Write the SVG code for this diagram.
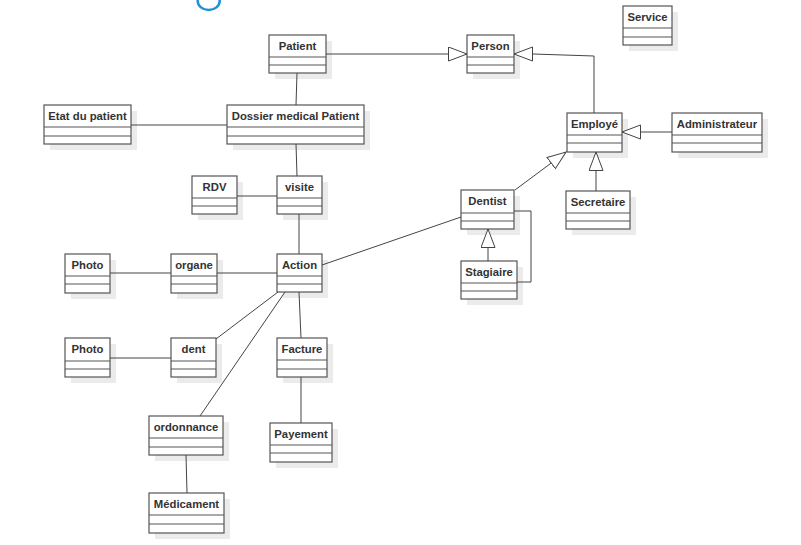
<svg xmlns="http://www.w3.org/2000/svg" width="801" height="545" viewBox="0 0 801 545">
  <style>
    .shadow { fill: #ebebeb; }
    .box { fill: #ffffff; stroke: #555555; stroke-width: 1.2; }
    .div { stroke: #555555; stroke-width: 1.2; }
    .name { font-family: "Liberation Sans", Arial, sans-serif; font-size: 11.3px; font-weight: bold; fill: #333333; text-anchor: middle; }
    .edge { fill: none; stroke: #444444; stroke-width: 1; }
  </style>
  <defs>
    <marker id="gen" markerUnits="userSpaceOnUse" markerWidth="22" markerHeight="18" refX="19" refY="7.5" orient="auto">
      <path d="M0.5,0.5 L19,7.5 L0.5,14.5 Z" fill="#ffffff" stroke="#444444" stroke-width="1"/>
    </marker>
  </defs>
  <rect width="801" height="545" fill="#ffffff"/>

  <!-- partial logo stroke at the top edge -->
  <ellipse cx="208.7" cy="1" rx="11" ry="9" fill="none" stroke="#1e90d8" stroke-width="2.5"/>

  <g id="service" transform="translate(623,6)">
    <rect class="shadow" x="6" y="6" width="49" height="39"/>
    <rect class="box" width="49" height="39"/>
    <line class="div" x1="0" y1="22" x2="49" y2="22"/><line class="div" x1="0" y1="31" x2="49" y2="31"/>
    <text class="name" x="24.5" y="15">Service</text>
  </g>
  <g id="patient" transform="translate(269,35)">
    <rect class="shadow" x="6" y="6" width="57" height="38"/>
    <rect class="box" width="57" height="38"/>
    <line class="div" x1="0" y1="22" x2="57" y2="22"/><line class="div" x1="0" y1="30" x2="57" y2="30"/>
    <text class="name" x="28.5" y="15">Patient</text>
  </g>
  <g id="person" transform="translate(467,35)">
    <rect class="shadow" x="6" y="6" width="47" height="38"/>
    <rect class="box" width="47" height="38"/>
    <line class="div" x1="0" y1="22" x2="47" y2="22"/><line class="div" x1="0" y1="30" x2="47" y2="30"/>
    <text class="name" x="23.5" y="15">Person</text>
  </g>
  <g id="etat-patient" transform="translate(44,105)">
    <rect class="shadow" x="6" y="6" width="87" height="39"/>
    <rect class="box" width="87" height="39"/>
    <line class="div" x1="0" y1="22" x2="87" y2="22"/><line class="div" x1="0" y1="31" x2="87" y2="31"/>
    <text class="name" x="43.5" y="15">Etat du patient</text>
  </g>
  <g id="dossier" transform="translate(227,105)">
    <rect class="shadow" x="6" y="6" width="137" height="39"/>
    <rect class="box" width="137" height="39"/>
    <line class="div" x1="0" y1="22" x2="137" y2="22"/><line class="div" x1="0" y1="31" x2="137" y2="31"/>
    <text class="name" x="68.5" y="15">Dossier medical Patient</text>
  </g>
  <g id="employe" transform="translate(567,113)">
    <rect class="shadow" x="6" y="6" width="55" height="39"/>
    <rect class="box" width="55" height="39"/>
    <line class="div" x1="0" y1="22" x2="55" y2="22"/><line class="div" x1="0" y1="30" x2="55" y2="30"/>
    <text class="name" x="27.5" y="15">Employé</text>
  </g>
  <g id="administrateur" transform="translate(672,113)">
    <rect class="shadow" x="6" y="6" width="90" height="39"/>
    <rect class="box" width="90" height="39"/>
    <line class="div" x1="0" y1="22" x2="90" y2="22"/><line class="div" x1="0" y1="30" x2="90" y2="30"/>
    <text class="name" x="45" y="15">Administrateur</text>
  </g>
  <g id="rdv" transform="translate(192,176)">
    <rect class="shadow" x="6" y="6" width="45" height="38"/>
    <rect class="box" width="45" height="38"/>
    <line class="div" x1="0" y1="22" x2="45" y2="22"/><line class="div" x1="0" y1="30" x2="45" y2="30"/>
    <text class="name" x="22.5" y="15">RDV</text>
  </g>
  <g id="visite" transform="translate(277,176)">
    <rect class="shadow" x="6" y="6" width="45" height="38"/>
    <rect class="box" width="45" height="38"/>
    <line class="div" x1="0" y1="22" x2="45" y2="22"/><line class="div" x1="0" y1="30" x2="45" y2="30"/>
    <text class="name" x="22.5" y="15">visite</text>
  </g>
  <g id="dentist" transform="translate(461,190)">
    <rect class="shadow" x="6" y="6" width="53" height="39"/>
    <rect class="box" width="53" height="39"/>
    <line class="div" x1="0" y1="23" x2="53" y2="23"/><line class="div" x1="0" y1="31" x2="53" y2="31"/>
    <text class="name" x="26.5" y="15">Dentist</text>
  </g>
  <g id="secretaire" transform="translate(566,191)">
    <rect class="shadow" x="6" y="6" width="64" height="38"/>
    <rect class="box" width="64" height="38"/>
    <line class="div" x1="0" y1="22" x2="64" y2="22"/><line class="div" x1="0" y1="30" x2="64" y2="30"/>
    <text class="name" x="32" y="15">Secretaire</text>
  </g>
  <g id="photo-organe" transform="translate(65,254)">
    <rect class="shadow" x="6" y="6" width="45" height="39"/>
    <rect class="box" width="45" height="39"/>
    <line class="div" x1="0" y1="22" x2="45" y2="22"/><line class="div" x1="0" y1="30" x2="45" y2="30"/>
    <text class="name" x="22.5" y="15">Photo</text>
  </g>
  <g id="organe" transform="translate(171,254)">
    <rect class="shadow" x="6" y="6" width="46" height="39"/>
    <rect class="box" width="46" height="39"/>
    <line class="div" x1="0" y1="22" x2="46" y2="22"/><line class="div" x1="0" y1="30" x2="46" y2="30"/>
    <text class="name" x="23" y="15">organe</text>
  </g>
  <g id="action" transform="translate(277,254)">
    <rect class="shadow" x="6" y="6" width="45" height="38"/>
    <rect class="box" width="45" height="38"/>
    <line class="div" x1="0" y1="22" x2="45" y2="22"/><line class="div" x1="0" y1="30" x2="45" y2="30"/>
    <text class="name" x="22.5" y="15">Action</text>
  </g>
  <g id="stagiaire" transform="translate(461,261)">
    <rect class="shadow" x="6" y="6" width="56" height="38"/>
    <rect class="box" width="56" height="38"/>
    <line class="div" x1="0" y1="22" x2="56" y2="22"/><line class="div" x1="0" y1="30" x2="56" y2="30"/>
    <text class="name" x="28" y="15">Stagiaire</text>
  </g>
  <g id="photo-dent" transform="translate(65,338)">
    <rect class="shadow" x="6" y="6" width="45" height="39"/>
    <rect class="box" width="45" height="39"/>
    <line class="div" x1="0" y1="23" x2="45" y2="23"/><line class="div" x1="0" y1="31" x2="45" y2="31"/>
    <text class="name" x="22.5" y="15">Photo</text>
  </g>
  <g id="dent" transform="translate(171,338)">
    <rect class="shadow" x="6" y="6" width="45" height="39"/>
    <rect class="box" width="45" height="39"/>
    <line class="div" x1="0" y1="23" x2="45" y2="23"/><line class="div" x1="0" y1="31" x2="45" y2="31"/>
    <text class="name" x="22.5" y="15">dent</text>
  </g>
  <g id="facture" transform="translate(277,338)">
    <rect class="shadow" x="6" y="6" width="50" height="39"/>
    <rect class="box" width="50" height="39"/>
    <line class="div" x1="0" y1="22" x2="50" y2="22"/><line class="div" x1="0" y1="31" x2="50" y2="31"/>
    <text class="name" x="25" y="15">Facture</text>
  </g>
  <g id="ordonnance" transform="translate(149,416)">
    <rect class="shadow" x="6" y="6" width="74" height="39"/>
    <rect class="box" width="74" height="39"/>
    <line class="div" x1="0" y1="22" x2="74" y2="22"/><line class="div" x1="0" y1="31" x2="74" y2="31"/>
    <text class="name" x="37" y="15">ordonnance</text>
  </g>
  <g id="payement" transform="translate(270,423)">
    <rect class="shadow" x="6" y="6" width="62" height="39"/>
    <rect class="box" width="62" height="39"/>
    <line class="div" x1="0" y1="22" x2="62" y2="22"/><line class="div" x1="0" y1="30" x2="62" y2="30"/>
    <text class="name" x="31" y="15">Payement</text>
  </g>
  <g id="medicament" transform="translate(149,493)">
    <rect class="shadow" x="6" y="6" width="75" height="40"/>
    <rect class="box" width="75" height="40"/>
    <line class="div" x1="0" y1="22" x2="75" y2="22"/><line class="div" x1="0" y1="31" x2="75" y2="31"/>
    <text class="name" x="37.5" y="15">Médicament</text>
  </g>

  <!-- connectors drawn above the box shadows -->
  <g id="connectors">
    <!-- associations -->
    <line class="edge" x1="297" y1="73" x2="296" y2="105"/>
    <line class="edge" x1="131" y1="125" x2="227" y2="125"/>
    <line class="edge" x1="296" y1="144" x2="297" y2="176"/>
    <line class="edge" x1="237" y1="196" x2="277" y2="196"/>
    <line class="edge" x1="299" y1="214" x2="299" y2="254"/>
    <line class="edge" x1="217" y1="273" x2="277" y2="273"/>
    <line class="edge" x1="110" y1="273" x2="171" y2="273"/>
    <line class="edge" x1="110" y1="358" x2="171" y2="358"/>
    <line class="edge" x1="216" y1="339" x2="278" y2="292"/>
    <line class="edge" x1="200" y1="416" x2="285" y2="292"/>
    <line class="edge" x1="299" y1="292" x2="301" y2="338"/>
    <line class="edge" x1="301" y1="377" x2="301" y2="423"/>
    <line class="edge" x1="186" y1="455" x2="187" y2="493"/>
    <line class="edge" x1="322" y1="265" x2="461" y2="217"/>
    <polyline class="edge" points="514,211 531,211 531,282 517,282"/>
    <!-- generalizations -->
    <line class="edge" x1="326" y1="54" x2="467" y2="54" marker-end="url(#gen)"/>
    <polyline class="edge" points="594,113 594,56 533,54 514,54" marker-end="url(#gen)"/>
    <line class="edge" x1="672" y1="132" x2="622" y2="132" marker-end="url(#gen)"/>
    <line class="edge" x1="596" y1="191" x2="596" y2="152" marker-end="url(#gen)"/>
    <line class="edge" x1="515" y1="190" x2="566" y2="152" marker-end="url(#gen)"/>
    <line class="edge" x1="488" y1="261" x2="488" y2="229" marker-end="url(#gen)"/>
  </g>
</svg>
